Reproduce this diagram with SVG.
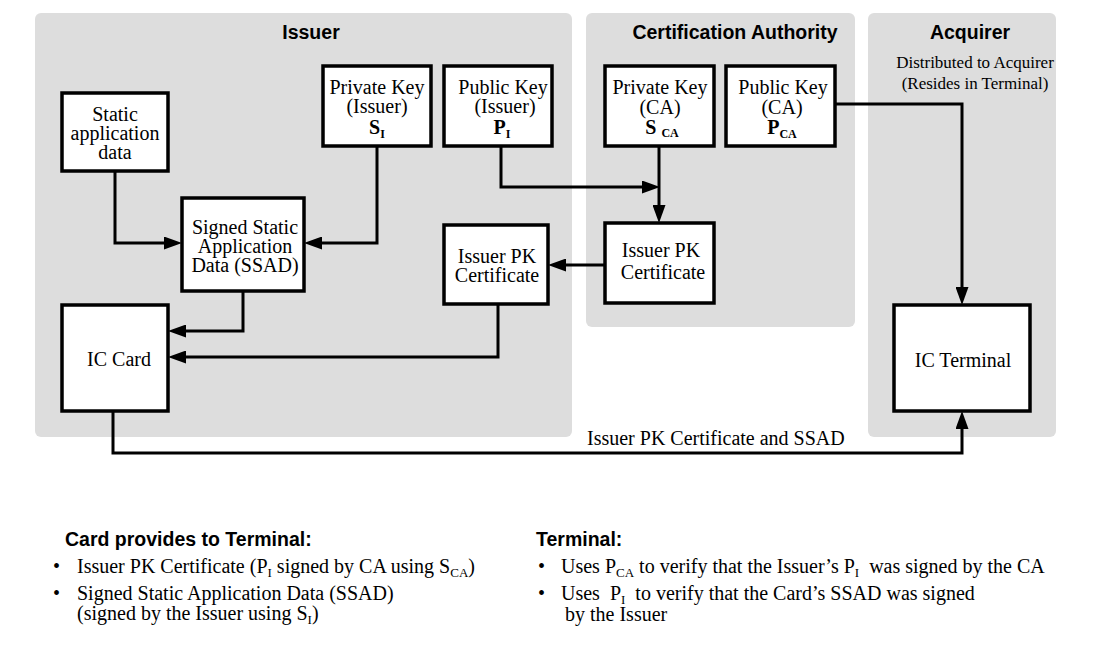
<svg xmlns="http://www.w3.org/2000/svg" width="1095" height="657" viewBox="0 0 1095 657">
<style>
.panel{fill:#dddddd;stroke:none}
.box{fill:#ffffff;stroke:#000;stroke-width:3.5;stroke-linejoin:miter}
.t{font-family:"Liberation Serif","Times New Roman",serif;font-size:20px;fill:#000}
.c{text-anchor:middle}
.b{font-weight:bold}
.h{font-family:"Liberation Sans",Arial,sans-serif;font-size:19.5px;font-weight:bold;fill:#000}
.s{font-family:"Liberation Serif","Times New Roman",serif;font-size:17px;fill:#000;text-anchor:middle}
.ln{fill:none;stroke:#000;stroke-width:3;stroke-linejoin:miter}
</style>
<defs>
<marker id="arr" viewBox="0 0 18 13" refX="8" refY="6.5" markerWidth="18" markerHeight="13" markerUnits="userSpaceOnUse" orient="auto">
<path d="M0,0 L18,6.5 L0,13 Z" fill="#000"/>
</marker>
</defs>
<rect width="1095" height="657" fill="#ffffff"/>
<g id="panels">
<rect class="panel" x="35" y="13" width="537" height="424" rx="6"/>
<rect class="panel" x="586" y="13" width="269" height="314" rx="6"/>
<rect class="panel" x="868" y="13" width="188" height="424" rx="6"/>
<text class="h c" x="311" y="39">Issuer</text>
<text class="h c" x="735" y="39">Certification Authority</text>
<text class="h c" x="970" y="39">Acquirer</text>
<text class="s" x="975" y="68">Distributed to Acquirer</text>
<text class="s" x="975" y="89">(Resides in Terminal)</text>
</g>
<g id="connectors">
<path class="ln" d="M115,171 V243 H172" marker-end="url(#arr)"/>
<path class="ln" d="M377,146 V243 H314" marker-end="url(#arr)"/>
<path class="ln" d="M243,291 V331 H178" marker-end="url(#arr)"/>
<path class="ln" d="M498,304 V357 H178" marker-end="url(#arr)"/>
<path class="ln" d="M501,146 V187 H650" marker-end="url(#arr)"/>
<path class="ln" d="M659,146 V213" marker-end="url(#arr)"/>
<path class="ln" d="M605,265 H558" marker-end="url(#arr)"/>
<path class="ln" d="M835,104 H962 V295" marker-end="url(#arr)"/>
<path class="ln" d="M113,411 V453 H962 V421" marker-end="url(#arr)"/>
<text class="t" x="587" y="445">Issuer PK Certificate and SSAD</text>
</g>
<g id="static-data">
<rect class="box" x="62" y="93" width="106" height="78"/>
<text class="t c" x="115" y="121">Static</text>
<text class="t c" x="115" y="140">application</text>
<text class="t c" x="115" y="159">data</text>
</g>
<g id="ssad">
<rect class="box" x="182" y="198" width="122" height="93"/>
<text class="t c" x="245" y="234">Signed Static</text>
<text class="t c" x="245" y="253">Application</text>
<text class="t c" x="245" y="272">Data (SSAD)</text>
</g>
<g id="private-key-issuer">
<rect class="box" x="323" y="66" width="108" height="80"/>
<text class="t c" x="377" y="94">Private Key</text>
<text class="t c" x="377" y="113">(Issuer)</text>
<text class="t c b" x="377" y="134">S<tspan font-size="12" dy="4">I</tspan></text>
</g>
<g id="public-key-issuer">
<rect class="box" x="444" y="66" width="108" height="80"/>
<text class="t c" x="503" y="94">Public Key</text>
<text class="t c" x="505" y="113">(Issuer)</text>
<text class="t c b" x="502" y="134">P<tspan font-size="12" dy="4">I</tspan></text>
</g>
<g id="private-key-ca">
<rect class="box" x="605" y="66" width="109" height="80"/>
<text class="t c" x="660" y="94">Private Key</text>
<text class="t c" x="660" y="114">(CA)</text>
<text class="t c b" x="662" y="134">S <tspan font-size="12" dy="3">CA</tspan></text>
</g>
<g id="public-key-ca">
<rect class="box" x="726" y="66" width="109" height="80"/>
<text class="t c" x="783" y="94">Public Key</text>
<text class="t c" x="782" y="114">(CA)</text>
<text class="t c b" x="782" y="134">P<tspan font-size="12" dy="4">CA</tspan></text>
</g>
<g id="issuer-pk-cert-issuer">
<rect class="box" x="444" y="225" width="104" height="79"/>
<text class="t c" x="497" y="263">Issuer PK</text>
<text class="t c" x="497" y="282">Certificate</text>
</g>
<g id="issuer-pk-cert-ca">
<rect class="box" x="605" y="223" width="109" height="80"/>
<text class="t c" x="661" y="257">Issuer PK</text>
<text class="t c" x="663" y="279">Certificate</text>
</g>
<g id="ic-card">
<rect class="box" x="62" y="305" width="106" height="106"/>
<text class="t c" x="119" y="366">IC Card</text>
</g>
<g id="ic-terminal">
<rect class="box" x="894" y="305" width="136" height="106"/>
<text class="t c" x="963" y="367">IC Terminal</text>
</g>
<g id="notes">
<text class="h" x="65" y="546">Card provides to Terminal:</text>
<text class="t" x="53" y="573">•</text>
<text class="t" x="77" y="573">Issuer PK Certificate (P<tspan font-size="13" dy="4">I</tspan><tspan dy="-4"> signed by CA using S</tspan><tspan font-size="13" dy="4">CA</tspan><tspan dy="-4">)</tspan></text>
<text class="t" x="53" y="600">•</text>
<text class="t" x="77" y="600">Signed Static Application Data (SSAD)</text>
<text class="t" x="77" y="620">(signed by the Issuer using S<tspan font-size="13" dy="4">I</tspan><tspan dy="-4">)</tspan></text>
<text class="h" x="536" y="546">Terminal:</text>
<text class="t" x="538" y="573">•</text>
<text class="t" x="561" y="573" xml:space="preserve">Uses P<tspan font-size="13" dy="4">CA</tspan><tspan dy="-4"> to verify that the Issuer’s P</tspan><tspan font-size="13" dy="4">I</tspan><tspan dy="-4">  was signed by the CA</tspan></text>
<text class="t" x="538" y="600">•</text>
<text class="t" x="561" y="600" xml:space="preserve">Uses  P<tspan font-size="13" dy="4">I</tspan><tspan dy="-4">  to verify that the Card’s SSAD was signed</tspan></text>
<text class="t" x="565" y="621">by the Issuer</text>
</g>
</svg>
